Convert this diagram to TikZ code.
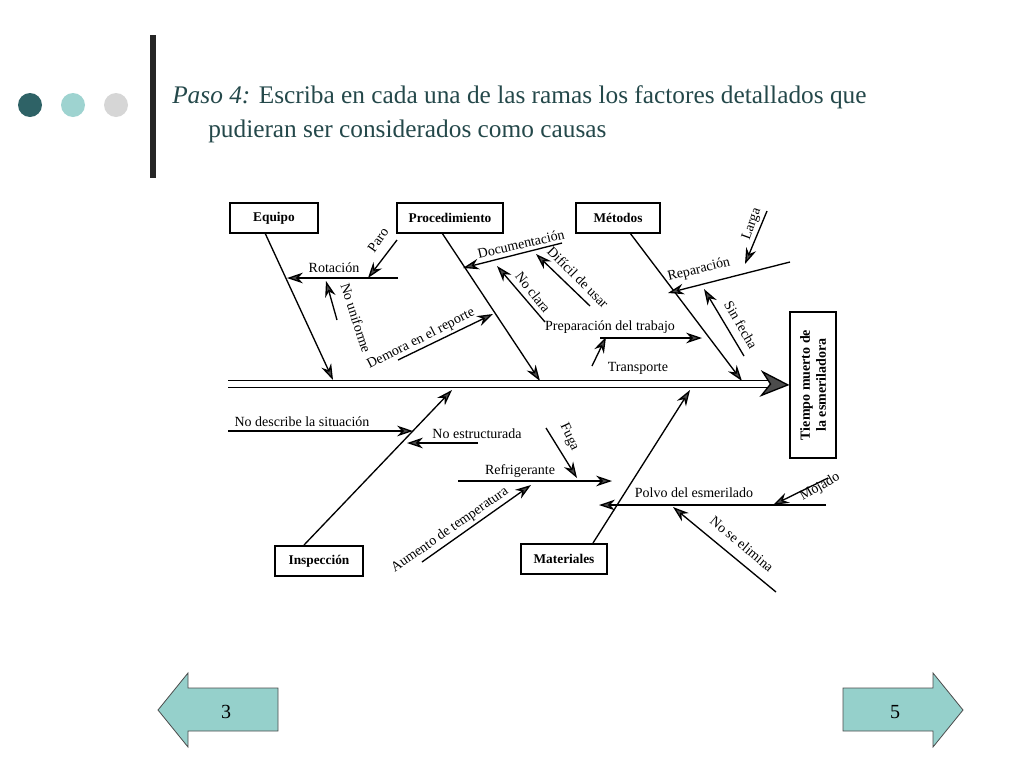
\documentclass[tikz,border=0pt]{standalone}
\usepackage{fontspec}
\setmainfont{Liberation Serif}
\usetikzlibrary{arrows.meta}
\definecolor{teal1}{HTML}{2E6266}
\definecolor{teal2}{HTML}{9ED3D0}
\definecolor{gray1}{HTML}{D6D6D6}
\definecolor{btn}{HTML}{95D0CB}
\definecolor{ttl}{HTML}{24484A}
\begin{document}
\begin{tikzpicture}[x=0.75pt,y=-0.75pt,
  ar/.style={line width=1pt,-{Stealth[length=12pt,width=8pt,fill=black!70]}},
  lbl/.style={font=\fontsize{10.5}{12}\selectfont,inner sep=1pt},
  cat/.style={draw,line width=1.3pt,font=\bfseries\fontsize{10}{11}\selectfont,minimum height=22pt,inner sep=3pt},
  btnst/.style={fill=btn,draw=black!70,line width=0.6pt}]
\useasboundingbox (0,0) rectangle (1024,768);
% header
\fill[teal1] (30,105) circle (12);
\fill[teal2] (73,105) circle (12);
\fill[gray1] (116,105) circle (12);
\draw[line width=4pt,black!85] (153,35) -- (153,178);
\node[anchor=west,text=ttl,font=\fontsize{19}{22}\selectfont,inner sep=0] (t1) at (172,97) {\textit{Paso 4:} Escriba en cada una de las ramas los factores detallados que};
\node[anchor=west,text=ttl,font=\fontsize{19}{22}\selectfont,inner sep=0] (t2) at (208,131) {pudieran ser considerados como causas};
% buttons
\draw[btnst] (158,710) -- (188,673) -- (188,688) -- (278,688) -- (278,731) -- (188,731) -- (188,747) -- cycle;
\node[font=\fontsize{15}{18}\selectfont] (b3) at (226,712) {3};
\draw[btnst] (963,710) -- (933,673) -- (933,688) -- (843,688) -- (843,731) -- (933,731) -- (933,747) -- cycle;
\node[font=\fontsize{15}{18}\selectfont] (b5) at (895,712) {5};
% effect
\node[draw,line width=1.3pt,rotate=90,minimum width=109pt,minimum height=34pt,align=center,font=\bfseries\fontsize{10.5}{12}\selectfont,inner sep=2pt] (eff) at (813,385) {Tiempo muerto de\\la esmeriladora};
% spine
\draw[line width=1pt,double distance=4pt] (228,384) -- (772,384);
\draw[line width=1pt,-{Stealth[length=22pt,width=20pt,fill=black!70]}] (770,384) -- (eff.north);
% categories
\node[cat,minimum width=66pt] (eq) at (274,218) {Equipo};
\node[cat,minimum width=80pt] (pr) at (450,218) {Procedimiento};
\node[cat,minimum width=63pt] (me) at (618,218) {Métodos};
\node[cat,minimum width=66pt] (in) at (319,561) {Inspección};
\node[cat,minimum width=64pt] (ma) at (564,559) {Materiales};
\coordinate (e1) at (333,380); \coordinate (p1) at (540,381); \coordinate (m1) at (742,381);
\coordinate (i1) at (452,390); \coordinate (a1) at (690,390);
\draw[ar] (265,233) -- (e1);
\draw[ar] (442,233) -- (p1);
\draw[ar] (630,233) -- (m1);
\draw[ar] (304,545) -- (i1);
\draw[ar] (593,543) -- (a1);
% Equipo subs
\coordinate (r0) at (398,278); \coordinate (r1) at (287,278);
\draw[ar] (r0) -- (r1);
\node[lbl] (rot) at (334,268) {Rotación};
\coordinate (pa0) at (397,240); \coordinate (pa1) at (368,278);
\draw[ar] (pa0) -- (pa1);
\node[lbl,rotate=55] (paro) at (378,240) {Paro};
\coordinate (nu0) at (337,320); \coordinate (nu1) at (326,281);
\draw[ar] (nu0) -- (nu1);
\node[lbl,rotate=-72] (nuf) at (356,318) {No uniforme};
% Procedimiento subs
\coordinate (d0) at (398,360); \coordinate (d1) at (493,314);
\draw[ar] (d0) -- (d1);
\node[lbl,rotate=27] (dem) at (421,339) {Demora en el reporte};
\coordinate (do0) at (562,243); \coordinate (do1) at (463,268);
\draw[ar] (do0) -- (do1);
\node[lbl,rotate=13] (doc) at (521,244) {Documentación};
\coordinate (nc0) at (545,322); \coordinate (nc1) at (497,266);
\draw[ar] (nc0) -- (nc1);
\node[lbl,rotate=-52] (ncl) at (533,292) {No clara};
\coordinate (df0) at (590,306); \coordinate (df1) at (536,254);
\draw[ar] (df0) -- (df1);
\node[lbl,rotate=-45] (dif) at (578,277) {Difícil de usar};
% Metodos subs
\coordinate (pt0) at (600,338); \coordinate (pt1) at (702,338);
\draw[ar] (pt0) -- (pt1);
\node[lbl] (prep) at (610,327) {Preparación del trabajo};
\coordinate (tr0) at (592,366); \coordinate (tr1) at (606,337);
\draw[ar] (tr0) -- (tr1);
\node[lbl] (tra) at (638,368) {Transporte};
\coordinate (re0) at (790,262); \coordinate (re1) at (668,293);
\draw[ar] (re0) -- (re1);
\node[lbl,rotate=14] (rep) at (699,270) {Reparación};
\coordinate (la0) at (767,211); \coordinate (la1) at (745,264);
\draw[ar] (la0) -- (la1);
\node[lbl,rotate=70] (lar) at (752,224) {Larga};
\coordinate (sf0) at (744,356); \coordinate (sf1) at (704,289);
\draw[ar] (sf0) -- (sf1);
\node[lbl,rotate=-60] (sfe) at (741,325) {Sin fecha};
% Inspeccion subs
\coordinate (nd0) at (228,431); \coordinate (nd1) at (413,431);
\draw[ar] (nd0) -- (nd1);
\node[lbl] (nde) at (302,422) {No describe la situación};
\coordinate (ne0) at (478,443); \coordinate (ne1) at (407,443);
\draw[ar] (ne0) -- (ne1);
\node[lbl] (nes) at (477,434) {No estructurada};
% Materiales subs
\coordinate (rf0) at (458,481); \coordinate (rf1) at (612,481);
\draw[ar] (rf0) -- (rf1);
\node[lbl] (ref) at (520,471) {Refrigerante};
\coordinate (fu0) at (546,428); \coordinate (fu1) at (577,478);
\draw[ar] (fu0) -- (fu1);
\node[lbl,rotate=-65] (fug) at (569,437) {Fuga};
\coordinate (at0) at (422,562); \coordinate (at1) at (531,485);
\draw[ar] (at0) -- (at1);
\node[lbl,rotate=35] (aum) at (450,530) {Aumento de temperatura};
\coordinate (po0) at (826,505); \coordinate (po1) at (599,505);
\draw[ar] (po0) -- (po1);
\node[lbl] (pol) at (694,493) {Polvo del esmerilado};
\coordinate (mo0) at (828,478); \coordinate (mo1) at (773,505);
\draw[ar] (mo0) -- (mo1);
\node[lbl,rotate=30] (moj) at (820,487) {Mojado};
\coordinate (ns0) at (776,592); \coordinate (ns1) at (673,507);
\draw[ar] (ns0) -- (ns1);
\node[lbl,rotate=-40] (nse) at (742,544) {No se elimina};
\end{tikzpicture}
\end{document}
